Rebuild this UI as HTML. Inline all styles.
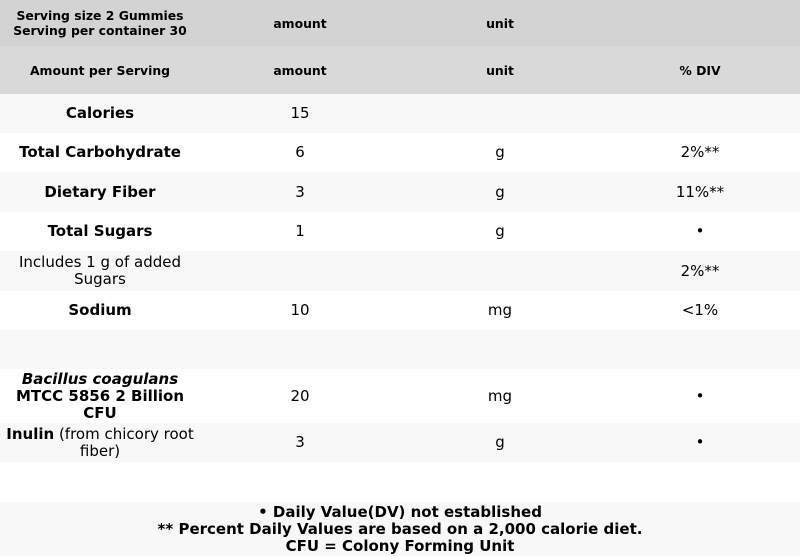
<!DOCTYPE html>
<html><head><meta charset="utf-8"><style>
*{margin:0;padding:0;box-sizing:border-box}
body{width:800px;height:556px;overflow:hidden;background:#fff;font-family:"DejaVu Sans","Liberation Sans",sans-serif;color:#000}
.r{position:absolute;left:0;width:800px;display:flex}
.c{width:200px;padding:0 6px;display:flex;align-items:center;justify-content:center;text-align:center;font-size:15px;line-height:17px}
.h .c{font-size:12.4px;font-weight:bold;line-height:15px;padding:0}
.b{font-weight:bold}
.g{background:#f8f8f8}
</style></head><body>
<div class="r h" style="top:0;height:46px;background:#d3d3d3"><div class="c">Serving size 2 Gummies<br>Serving per container 30</div><div class="c">amount</div><div class="c">unit</div><div class="c"></div></div>
<div class="r h" style="top:46px;height:48px;background:#d9d9d9"><div class="c">Amount per Serving</div><div class="c">amount</div><div class="c">unit</div><div class="c">% DIV</div></div>
<div class="r g" style="top:94px;height:39px"><div class="c b">Calories</div><div class="c">15</div><div class="c"></div><div class="c"></div></div>
<div class="r" style="top:133px;height:39px"><div class="c b" style="padding:0">Total Carbohydrate</div><div class="c">6</div><div class="c">g</div><div class="c">2%**</div></div>
<div class="r g" style="top:172px;height:40px"><div class="c b">Dietary Fiber</div><div class="c">3</div><div class="c">g</div><div class="c">11%**</div></div>
<div class="r" style="top:212px;height:39px"><div class="c b">Total Sugars</div><div class="c">1</div><div class="c">g</div><div class="c">•</div></div>
<div class="r g" style="top:251px;height:40px"><div class="c">Includes 1 g of added Sugars</div><div class="c"></div><div class="c"></div><div class="c">2%**</div></div>
<div class="r" style="top:291px;height:39px"><div class="c b">Sodium</div><div class="c">10</div><div class="c">mg</div><div class="c">&lt;1%</div></div>
<div class="r g" style="top:330px;height:39px"></div>
<div class="r" style="top:369px;height:54px"><div class="c b"><span><i>Bacillus coagulans</i><br>MTCC 5856 2 Billion CFU</span></div><div class="c">20</div><div class="c">mg</div><div class="c">•</div></div>
<div class="r g" style="top:423px;height:39px"><div class="c"><span><b>Inulin</b> (from chicory root fiber)</span></div><div class="c">3</div><div class="c">g</div><div class="c">•</div></div>
<div class="r g" style="top:502px;height:54px;justify-content:center;align-items:center;text-align:center;font-weight:bold;font-size:15px;line-height:17px"><div>• Daily Value(DV) not established<br>** Percent Daily Values are based on a 2,000 calorie diet.<br>CFU = Colony Forming Unit</div></div>
</body></html>
